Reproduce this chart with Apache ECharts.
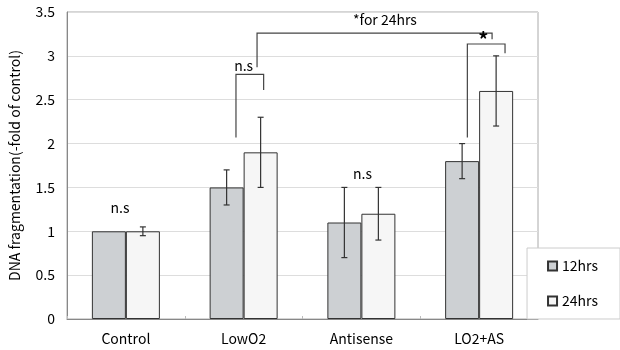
<!DOCTYPE html>
<html>
<head>
<meta charset="utf-8">
<script src="https://cdn.jsdelivr.net/npm/echarts@6/dist/echarts.min.js"></script>
<style>
  html, body { margin: 0; padding: 0; background: #fff; }
  #chart { width: 620px; height: 350px; }
</style>
</head>
<body>
<div id="chart"></div>
<script>
// data
var categories = ['Control', 'LowO2', 'Antisense', 'LO2+AS'];
var yTicks = [0, 0.5, 1, 1.5, 2, 2.5, 3, 3.5];
var hrs12 = [1, 1.5, 1.1, 1.8];
var hrs12Err = [0, 0.2, 0.4, 0.2];
var hrs24 = [1, 1.9, 1.2, 2.6];
var hrs24Err = [0.05, 0.4, 0.3, 0.4];

// brackets: [cat, offset(band), yBottomLeft, yTop, cat, offset(band), yBottomRight]
var brackets = [
  [1, -0.065, 2.07, 2.79, 1, 0.17, 2.61],
  [1, 0.114, 2.87, 3.26, 3, 0.11, 3.19],
  [3, -0.10, 2.07, 3.135, 3, 0.22, 3.03]
];
// annotation texts: [cat, offset(band), y, text]
var notes = [
  [0, -0.05, 1.27, 'n.s'],
  [1, 0.0, 2.89, 'n.s'],
  [2, 0.01, 1.66, 'n.s'],
  [2, 0.2, 3.41, '*for 24hrs'],
  [3, 0.035, 3.19, '*']
];

var FONT = '"Noto Sans CJK JP", "DejaVu Sans", sans-serif';
var BAR_W = 34;

var chart = echarts.init(document.getElementById('chart'));

function errSeries(vals, errs, side) {
  var d = vals.map(function (v, i) { return [i, v, errs[i]]; });
  return {
    type: 'custom',
    z: 5,
    silent: true,
    data: d,
    renderItem: function (params, api) {
      var i = api.value(0), v = api.value(1), e = api.value(2);
      if (!e) return null;
      var c = api.coord([i, v]);
      var x = c[0] + side * BAR_W / 2;
      var top = api.coord([i, v + e])[1];
      var bot = api.coord([i, v - e])[1];
      var st = { stroke: '#333', lineWidth: 1.2 };
      return {
        type: 'group',
        children: [
          { type: 'line', shape: { x1: x, y1: top, x2: x, y2: bot }, style: st },
          { type: 'line', shape: { x1: x - 3, y1: top, x2: x + 3, y2: top }, style: st },
          { type: 'line', shape: { x1: x - 3, y1: bot, x2: x + 3, y2: bot }, style: st }
        ]
      };
    }
  };
}

var option = {
  animation: false,
  textStyle: { fontFamily: FONT },
  grid: {
    left: 67, right: 82, top: 12, bottom: 31,
    show: true, borderColor: '#aaa', borderWidth: 1
  },
  legend: {
    orient: 'vertical',
    right: 0,
    top: 248,
    backgroundColor: '#fff',
    borderColor: '#ccc',
    borderWidth: 1,
    padding: [11, 22, 11, 20],
    icon: 'rect',
    itemWidth: 9,
    itemHeight: 9,
    itemGap: 21,
    textStyle: { fontSize: 14, color: '#000', fontFamily: FONT },
    data: ['12hrs', '24hrs']
  },
  xAxis: {
    type: 'category',
    data: categories,
    axisLine: { lineStyle: { color: '#888' } },
    axisTick: { show: true, inside: true, length: 3, lineStyle: { color: '#bbb' } },
    axisLabel: { fontSize: 14, color: '#000', margin: 13 }
  },
  yAxis: {
    type: 'value',
    min: yTicks[0],
    max: yTicks[yTicks.length - 1],
    interval: 0.5,
    name: 'DNA fragmentation(-fold of control)',
    nameLocation: 'middle',
    nameRotate: 90,
    nameGap: 45,
    nameTextStyle: { fontSize: 14, color: '#000' },
    axisLine: { show: true, lineStyle: { color: '#888' } },
    axisTick: { show: false },
    splitLine: { lineStyle: { color: '#ddd' } },
    axisLabel: { fontSize: 14, color: '#000', margin: 12 }
  },
  series: [
    {
      name: '12hrs',
      type: 'bar',
      data: hrs12,
      barWidth: BAR_W,
      barGap: '0%',
      itemStyle: { color: '#cdd0d3', borderColor: '#333', borderWidth: 1 }
    },
    {
      name: '24hrs',
      type: 'bar',
      data: hrs24,
      barWidth: BAR_W,
      barGap: '0%',
      itemStyle: { color: '#f6f6f6', borderColor: '#333', borderWidth: 1 }
    },
    errSeries(hrs12, hrs12Err, -1),
    errSeries(hrs24, hrs24Err, 1),
    {
      type: 'custom',
      z: 6,
      silent: true,
      data: brackets,
      renderItem: function (params, api) {
        var band = api.size([1, 0])[0];
        var l = api.coord([api.value(0), api.value(2)]);
        var lt = api.coord([api.value(0), api.value(3)]);
        var r = api.coord([api.value(4), api.value(6)]);
        var xl = l[0] + api.value(1) * band;
        var xr = r[0] + api.value(5) * band;
        return {
          type: 'polyline',
          shape: { points: [[xl, l[1]], [xl, lt[1]], [xr, lt[1]], [xr, r[1]]] },
          style: { stroke: '#444', lineWidth: 1.2, fill: null }
        };
      }
    },
    {
      type: 'custom',
      z: 7,
      silent: true,
      data: notes,
      renderItem: function (params, api) {
        var band = api.size([1, 0])[0];
        var c = api.coord([api.value(0), api.value(2)]);
        var t = notes[params.dataIndex][3];
        return {
          type: 'text',
          x: c[0] + api.value(1) * band,
          y: c[1],
          style: {
            text: t,
            fontSize: t === '*' ? 20 : 14,
            fontWeight: t === '*' ? 'bold' : 'normal',
            fontFamily: FONT,
            fill: '#000',
            align: 'center',
            verticalAlign: 'middle'
          }
        };
      }
    }
  ]
};

chart.setOption(option);
window.addEventListener('resize', function () { chart.resize(); });
</script>
</body>
</html>
